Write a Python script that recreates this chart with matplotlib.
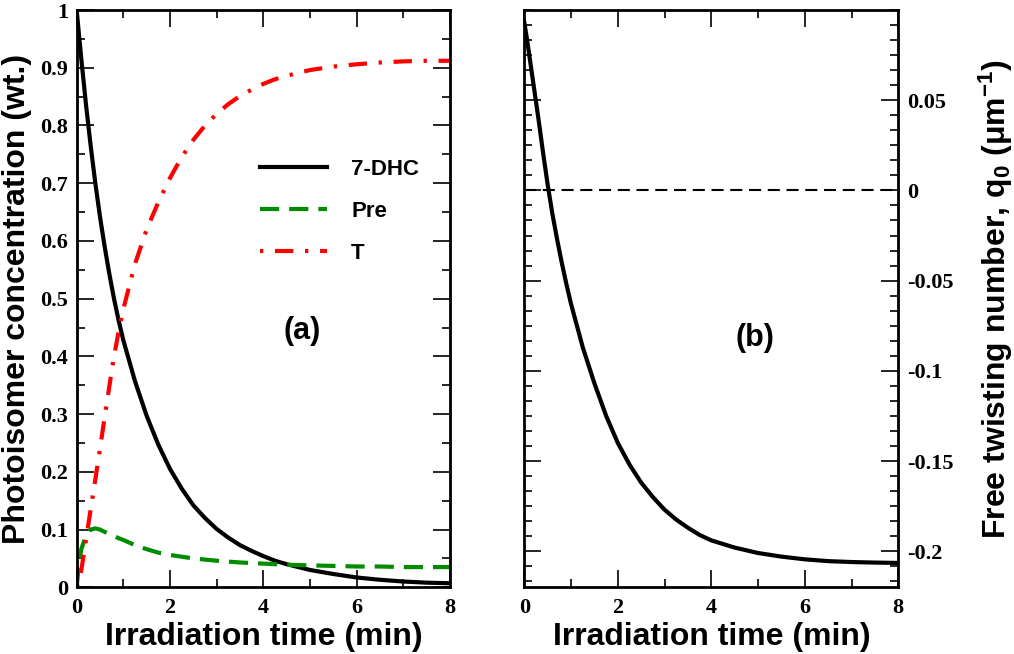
import matplotlib
matplotlib.use("Agg")
import matplotlib.pyplot as plt
from matplotlib.ticker import FixedLocator, MultipleLocator, FuncFormatter

# values
t_min = [0.0, 0.05, 0.1, 0.2, 0.3, 0.4, 0.5, 0.6, 0.7, 0.8, 0.9, 1.0,
         1.25, 1.5, 1.75, 2.0, 2.25, 2.5, 2.75, 3.0, 3.25, 3.5, 3.75, 4.0,
         4.25, 4.5, 4.75, 5.0, 5.5, 6.0, 6.5, 7.0, 7.5, 8.0]

dhc = [1.0, 0.957, 0.915, 0.836, 0.765, 0.700, 0.642, 0.590, 0.543, 0.500,
       0.462, 0.428, 0.357, 0.297, 0.247, 0.205, 0.171, 0.142, 0.120, 0.101,
       0.086, 0.073, 0.063, 0.054, 0.046, 0.040, 0.035, 0.030, 0.023, 0.017,
       0.013, 0.010, 0.008, 0.007]

pre = [0.0, 0.042, 0.066, 0.090, 0.100, 0.102, 0.100, 0.096, 0.092, 0.089,
       0.085, 0.082, 0.073, 0.066, 0.060, 0.056, 0.053, 0.050, 0.048, 0.046,
       0.0445, 0.043, 0.042, 0.041, 0.040, 0.039, 0.0385, 0.038, 0.037, 0.036,
       0.036, 0.035, 0.035, 0.035]

tach = [0.0, 0.012, 0.030, 0.082, 0.135, 0.187, 0.240, 0.295, 0.348, 0.400,
        0.443, 0.482, 0.560, 0.620, 0.667, 0.709, 0.745, 0.775, 0.800, 0.820,
        0.837, 0.851, 0.862, 0.872, 0.880, 0.886, 0.891, 0.896, 0.902, 0.906,
        0.909, 0.911, 0.912, 0.912]

q0 = [0.093, 0.085, 0.076, 0.058, 0.040, 0.021, 0.003, -0.013, -0.027, -0.040,
      -0.052, -0.063, -0.087, -0.107, -0.125, -0.140, -0.152, -0.162, -0.170,
      -0.177, -0.1825, -0.187, -0.191, -0.194, -0.196, -0.198, -0.1995,
      -0.201, -0.203, -0.2045, -0.2055, -0.206, -0.2063, -0.2065]

series_labels = ["7-DHC", "Pre", "T"]
x_ticks = [0, 2, 4, 6, 8]
left_yticks = [0, 0.1, 0.2, 0.3, 0.4, 0.5, 0.6, 0.7, 0.8, 0.9, 1.0]
right_yticks = [-0.2, -0.15, -0.1, -0.05, 0, 0.05]

plt.rcParams["font.family"] = ["Liberation Sans", "DejaVu Sans"]
plt.rcParams["font.weight"] = "bold"
plt.rcParams["axes.labelweight"] = "bold"
plt.rcParams["axes.unicode_minus"] = False
plt.rcParams["mathtext.fontset"] = "custom"
plt.rcParams["mathtext.rm"] = "Liberation Sans:bold"
plt.rcParams["mathtext.it"] = "Liberation Sans:bold"
plt.rcParams["mathtext.bf"] = "Liberation Sans:bold"


def fmt(v, _pos):
    return f"{round(v, 6) + 0.0:g}"


def style_axes(ax):
    for sp in ax.spines.values():
        sp.set_linewidth(2.0)
    ax.tick_params(which="both", direction="in", top=True, right=True,
                   width=1.2, labelsize=16, labelfontfamily="Liberation Serif")
    ax.tick_params(which="major", length=12, pad=6)
    ax.tick_params(which="minor", length=6)
    ax.tick_params(axis="x", which="major", pad=8)
    ax.xaxis.set_major_locator(FixedLocator(x_ticks))
    ax.xaxis.set_minor_locator(MultipleLocator(1))
    ax.xaxis.set_major_formatter(FuncFormatter(fmt))
    ax.yaxis.set_major_formatter(FuncFormatter(fmt))
    ax.set_xlim(0, 8)
    ax.set_xlabel("Irradiation time (min)", fontsize=23, fontweight="bold")
    ax.xaxis.set_label_coords(0.5, -0.060)


fig = plt.figure(figsize=(10.14, 6.54), dpi=100)
ax1 = fig.add_axes([0.0756, 0.102, 0.3682, 0.8827])
ax2 = fig.add_axes([0.5171, 0.102, 0.3688, 0.8827])

# (a) photoisomer concentrations
ax1.plot(t_min, dhc, color="black", lw=3.0, label=series_labels[0])
ax1.plot(t_min, pre, color="#008c00", lw=3.0, dashes=(4.6, 2.4),
         label=series_labels[1])
ax1.plot(t_min, tach, color="red", lw=3.0, dashes=(0.8, 2.8, 4.4, 2.8),
         label=series_labels[2])
style_axes(ax1)
ax1.set_ylim(0, 1)
ax1.yaxis.set_major_locator(FixedLocator(left_yticks))
ax1.yaxis.set_minor_locator(MultipleLocator(0.05))
ax1.set_ylabel("Photoisomer concentration (wt.)", fontsize=23,
               fontweight="bold")
ax1.yaxis.set_label_coords(-0.1204, 0.5)
ax1.legend(loc="upper left", bbox_to_anchor=(0.491, 0.742), frameon=False,
           fontsize=16, handlelength=3.0, handletextpad=1.1,
           labelspacing=0.95, borderpad=0, borderaxespad=0)
ax1.text(0.604, 0.444, "(a)", transform=ax1.transAxes, fontsize=22,
         ha="center", va="center")

# (b) free twisting number
ax2.axhline(0, color="black", lw=1.5, dashes=(5.8, 3.2))
ax2.plot(t_min, q0, color="black", lw=3.0)
style_axes(ax2)
ax2.set_ylim(-0.22, 0.1)
ax2.yaxis.set_major_locator(FixedLocator(right_yticks))
ax2.yaxis.set_minor_locator(MultipleLocator(0.05 / 6))
ax2.tick_params(axis="y", which="both", left=True, right=True,
                labelleft=False, labelright=True)
ax2.yaxis.set_label_position("right")
ax2.set_ylabel("Free twisting number, q$_0$ (μm$^{-1}$)", fontsize=23,
               fontweight="bold")
ax2.yaxis.set_label_coords(1.21, 0.5)
ax2.text(0.617, 0.432, "(b)", transform=ax2.transAxes, fontsize=22,
         ha="center", va="center")

fig.savefig("out.png", dpi=100)
